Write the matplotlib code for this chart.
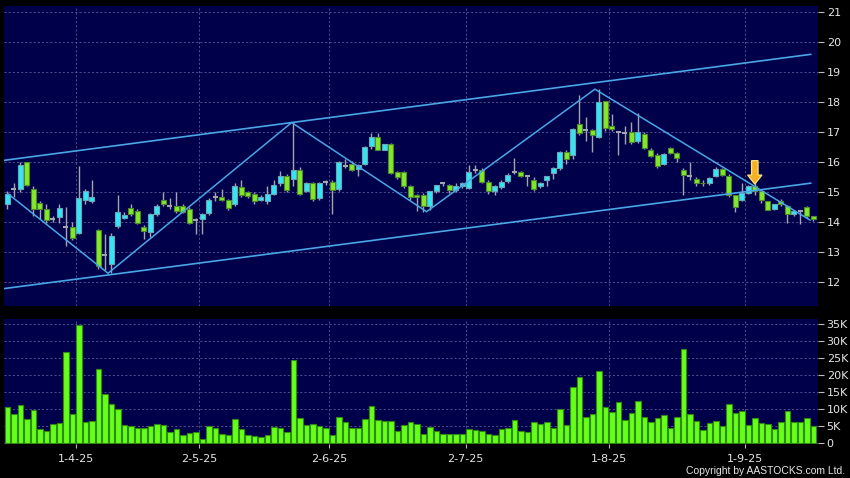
import matplotlib
matplotlib.use("Agg")
import matplotlib.pyplot as plt
from matplotlib.patches import Polygon
import numpy as np

# ---------------- data ----------------
opens = [14.62, 15.12, 15.09, 16.00, 15.11, 14.64, 14.45, 14.12, 14.18, 13.83,
         13.83, 13.65, 14.73, 14.70, 13.74, 12.90, 12.60, 13.89, 14.14, 14.48,
         14.37, 13.85, 13.69, 14.26, 14.75, 14.53, 14.54, 14.54, 14.45, 14.09,
         14.11, 14.31, 14.84, 14.83, 14.73, 14.62, 15.18, 15.00, 14.95, 14.75,
         14.70, 14.94, 15.29, 15.53, 15.45, 15.73, 15.05, 15.29, 14.81, 15.33,
         15.33, 15.11, 15.88, 15.95, 15.78, 15.95, 16.55, 16.85, 16.42, 16.60,
         15.66, 15.66, 15.20, 14.90, 14.92, 14.55, 15.03, 15.29, 15.23, 15.06,
         15.20, 15.14, 15.73, 15.73, 15.34, 15.03, 15.18, 15.36, 15.66, 15.66,
         15.53, 15.42, 15.20, 15.42, 15.64, 15.81, 16.33, 16.25, 17.27, 17.08,
         17.06, 16.84, 18.04, 17.22, 17.00, 16.97, 17.02, 16.69, 16.94, 16.42,
         16.25, 15.95, 16.47, 16.31, 15.75, 15.55, 15.45, 15.32, 15.31, 15.53,
         15.77, 15.55, 14.89, 14.75, 14.98, 15.22, 15.03, 14.70, 14.45, 14.70,
         14.54, 14.26, 14.39, 14.52, 14.20]
closes = [14.94, 15.12, 15.92, 15.23, 14.45, 14.45, 14.07, 14.12, 14.48, 13.83,
          13.48, 14.81, 15.03, 14.84, 12.54, 12.90, 13.54, 14.33, 14.24, 14.26,
          13.98, 13.70, 14.28, 14.54, 14.59, 14.53, 14.37, 14.34, 13.98, 14.09,
          14.28, 14.75, 14.84, 14.75, 14.48, 15.20, 14.89, 14.86, 14.70, 14.84,
          14.94, 15.23, 15.53, 15.06, 15.73, 14.95, 15.29, 14.78, 15.29, 15.33,
          15.06, 16.00, 15.88, 15.75, 15.92, 16.52, 16.85, 16.42, 16.60, 15.64,
          15.51, 15.20, 14.84, 14.85, 14.55, 15.03, 15.23, 15.29, 15.06, 15.20,
          15.31, 15.67, 15.73, 15.34, 15.03, 15.20, 15.34, 15.58, 15.66, 15.55,
          15.53, 15.11, 15.31, 15.53, 15.81, 16.33, 16.11, 17.10, 16.97, 17.08,
          16.91, 18.00, 17.13, 17.10, 17.00, 16.97, 16.67, 17.02, 16.47, 16.22,
          15.88, 16.28, 16.31, 16.14, 15.58, 15.55, 15.29, 15.29, 15.47, 15.77,
          15.58, 14.92, 14.51, 14.98, 15.20, 15.05, 14.73, 14.42, 14.59, 14.59,
          14.26, 14.39, 14.39, 14.22, 14.11]
highs = [15.05, 15.30, 16.00, 16.02, 15.20, 14.70, 14.62, 14.20, 14.60, 14.50,
         14.00, 15.86, 15.10, 15.42, 13.78, 13.60, 13.65, 14.90, 14.35, 14.60,
         14.45, 13.90, 14.30, 14.60, 15.00, 14.80, 15.00, 14.60, 14.50, 14.15,
         14.30, 14.80, 15.00, 15.10, 14.78, 15.30, 15.40, 15.05, 15.00, 14.90,
         15.20, 15.40, 15.70, 15.60, 17.32, 15.85, 15.35, 15.35, 15.35, 15.40,
         15.40, 16.05, 16.10, 16.05, 15.95, 16.55, 16.98, 16.98, 16.62, 16.65,
         15.72, 15.70, 15.25, 14.95, 14.97, 15.05, 15.25, 15.35, 15.28, 15.32,
         15.35, 15.92, 15.90, 15.80, 15.40, 15.25, 15.40, 15.65, 16.14, 15.72,
         15.56, 15.50, 15.35, 15.55, 15.85, 16.38, 16.40, 17.15, 18.24, 17.50,
         17.10, 18.43, 18.05, 17.60, 17.05, 17.20, 17.35, 17.63, 17.00, 16.47,
         16.30, 16.32, 16.52, 16.35, 15.80, 16.00, 15.50, 15.40, 15.50, 15.85,
         15.82, 15.60, 14.92, 15.30, 15.25, 15.30, 15.05, 14.72, 14.62, 14.78,
         14.58, 14.42, 14.42, 14.55, 14.22]
lows = [14.45, 14.85, 15.00, 15.20, 14.20, 14.10, 13.97, 14.00, 13.97, 13.20,
        13.40, 13.60, 14.60, 14.65, 12.45, 12.40, 12.30, 13.80, 14.10, 14.20,
        13.95, 13.45, 13.50, 14.20, 14.55, 14.45, 14.30, 14.30, 13.95, 13.60,
        13.60, 14.25, 14.70, 14.70, 14.40, 14.55, 14.85, 14.82, 14.60, 14.70,
        14.62, 14.90, 15.20, 15.00, 15.20, 14.90, 15.00, 14.72, 14.75, 15.25,
        14.29, 15.05, 15.80, 15.70, 15.55, 15.90, 16.45, 16.40, 16.40, 15.60,
        15.45, 15.15, 14.75, 14.37, 14.35, 14.40, 14.98, 15.20, 14.98, 15.00,
        15.15, 15.10, 15.65, 15.30, 14.95, 14.90, 15.12, 15.30, 15.60, 15.50,
        15.20, 15.05, 15.15, 15.20, 15.45, 15.75, 15.95, 16.10, 16.90, 16.70,
        16.33, 16.80, 17.05, 17.05, 16.25, 16.60, 16.60, 16.65, 16.45, 16.18,
        15.80, 15.90, 16.28, 16.00, 14.92, 15.40, 15.20, 15.20, 15.25, 15.50,
        15.55, 14.85, 14.35, 14.70, 14.95, 14.90, 14.65, 14.40, 14.40, 14.55,
        13.98, 14.22, 13.95, 14.15, 14.05]
volumes_k = [10.7, 8.6, 11.2, 7.1, 9.7, 4.1, 3.6, 5.6, 5.9, 26.7,
             8.6, 34.7, 6.2, 6.5, 21.7, 14.5, 11.6, 10.1, 5.5, 5.1,
             4.4, 4.4, 5.1, 5.8, 5.3, 3.4, 4.3, 2.4, 3.1, 3.3,
             1.2, 5.1, 4.6, 2.7, 2.3, 7.2, 4.1, 2.5, 2.1, 1.9,
             2.5, 4.8, 4.4, 3.4, 24.4, 7.5, 5.5, 5.6, 5.1, 4.5,
             2.4, 7.7, 6.2, 4.4, 4.6, 7.0, 11.0, 6.8, 6.5, 6.6,
             3.6, 5.4, 6.2, 5.6, 2.7, 4.9, 3.6, 2.8, 2.8, 2.7,
             2.7, 4.2, 3.9, 3.7, 2.8, 2.4, 4.2, 4.5, 6.8, 3.7,
             3.3, 6.2, 5.7, 6.2, 4.5, 10.0, 5.4, 16.4, 19.5, 7.8,
             8.7, 21.2, 10.6, 9.1, 12.2, 6.8, 8.8, 12.5, 7.6, 6.2,
             7.5, 8.3, 4.6, 7.8, 27.6, 8.6, 6.6, 3.9, 5.9, 6.6,
             5.1, 11.5, 9.0, 9.4, 5.3, 7.4, 5.9, 5.8, 4.1, 6.4,
             9.4, 6.2, 6.4, 7.4, 5.1]
date_ticks = [10.5, 29.5, 49.5, 70.5, 92.5, 113.5]
date_labels = ["1-4-25", "2-5-25", "2-6-25", "2-7-25", "1-8-25", "1-9-25"]
price_ticks = [12, 13, 14, 15, 16, 17, 18, 19, 20, 21]
vol_ticks = [0, 5, 10, 15, 20, 25, 30, 35]
zigzag_x = [0.15, 15.5, 43.75, 64.5, 90.4, 123.5]
zigzag_y = [14.94, 12.30, 17.32, 14.35, 18.43, 14.07]
upper_x = [-0.5, 123.6]
upper_y = [16.06, 19.59]
lower_x = [-0.5, 123.6]
lower_y = [11.79, 15.30]
arrow_idx = 115
arrow_top = 16.05
arrow_tip = 15.27

# ---------------- style ----------------
BG = "#00004a"
GRID = "#5c5c98"
TXT = "#e6e6e6"
CYAN = "#33e6f6"
CYAN_E = "#6aa6b4"
GREEN = "#82e82c"
GREEN_E = "#4e8a2a"
WICK = "#a4a4b0"
LINE = "#4aa6e6"
VOL = "#66ff1a"
VOL_E = "#2f8a10"

plt.rcParams['font.family'] = ['DejaVu Sans']

fig = plt.figure(figsize=(8.5, 4.78), dpi=100, facecolor="black")
W, H = 850.0, 478.0
ax = fig.add_axes([4 / W, 1 - 306 / H, 814.3 / W, 300 / H])
axv = fig.add_axes([4 / W, 1 - 444 / H, 814.3 / W, 125 / H])

n = len(opens)
x = np.arange(n)
o = np.array(opens); c = np.array(closes); h = np.array(highs); l = np.array(lows)
xlim = (-0.51, 124.77)

for a in (ax, axv):
    a.set_facecolor(BG)
    for s in a.spines.values():
        s.set_visible(False)
    a.set_xlim(*xlim)
    a.set_axisbelow(True)
    a.grid(True, color=GRID, linestyle=(0, (2.5, 2.5)), linewidth=0.6)
    a.yaxis.tick_right()
    a.tick_params(axis='y', colors='#bbbbbb', labelcolor=TXT, length=4,
                  width=0.8, pad=2, labelsize=8)
    a.set_xticks(date_ticks)

# ---- price panel ----
ax.set_ylim(11.21, 21.2)
ax.set_yticks(price_ticks)
ax.set_yticklabels([str(t) for t in price_ticks])
ax.tick_params(axis='x', length=0, labelbottom=False)

ax.vlines(x, l, h, color=WICK, linewidth=1.0, zorder=2)
up = c > o
dn = c < o
fl = c == o
ax.bar(x[up], (c - o)[up], bottom=o[up], width=0.74, color=CYAN,
       edgecolor=CYAN_E, linewidth=0.8, zorder=3)
ax.bar(x[dn], (o - c)[dn], bottom=c[dn], width=0.74, color=GREEN,
       edgecolor=GREEN_E, linewidth=0.8, zorder=3)
ax.hlines(c[fl], x[fl] - 0.4, x[fl] + 0.4, color=WICK, linewidth=1.5, zorder=3)

ax.plot(zigzag_x, zigzag_y, color=LINE, linewidth=1.1, zorder=4)
ax.plot(upper_x, upper_y, color=LINE, linewidth=1.2, zorder=4)
ax.plot(lower_x, lower_y, color=LINE, linewidth=1.2, zorder=4)

# arrow marker
sw, hw, hl = 0.5, 1.1, 0.30
ax_pts = [(arrow_idx - sw, arrow_top), (arrow_idx + sw, arrow_top),
          (arrow_idx + sw, arrow_tip + hl), (arrow_idx + hw, arrow_tip + hl),
          (arrow_idx, arrow_tip), (arrow_idx - hw, arrow_tip + hl),
          (arrow_idx - sw, arrow_tip + hl)]
ax.add_patch(Polygon(ax_pts, closed=True, facecolor="#f6b024",
                     edgecolor="#ffe27a", linewidth=0.9, zorder=6))

# ---- volume panel ----
axv.set_ylim(-0.2, 36.47)
axv.set_yticks(vol_ticks)
axv.set_yticklabels(["0" if t == 0 else f"{t}K" for t in vol_ticks])
axv.bar(x, volumes_k, width=0.84, color=VOL, edgecolor=VOL_E, linewidth=0.8,
        zorder=3)
axv.set_xticklabels(date_labels)
axv.tick_params(axis='x', colors='#bbbbbb', labelcolor=TXT, length=3,
                width=0.8, pad=4, labelsize=8)

fig.text(845 / W, 1 - 471 / H, "Copyright by AASTOCKS.com Ltd.",
         ha='right', va='center', color=TXT, fontsize=7.5,
         family=['Liberation Sans', 'DejaVu Sans'])

fig.savefig("out.png", dpi=100, facecolor="black")
